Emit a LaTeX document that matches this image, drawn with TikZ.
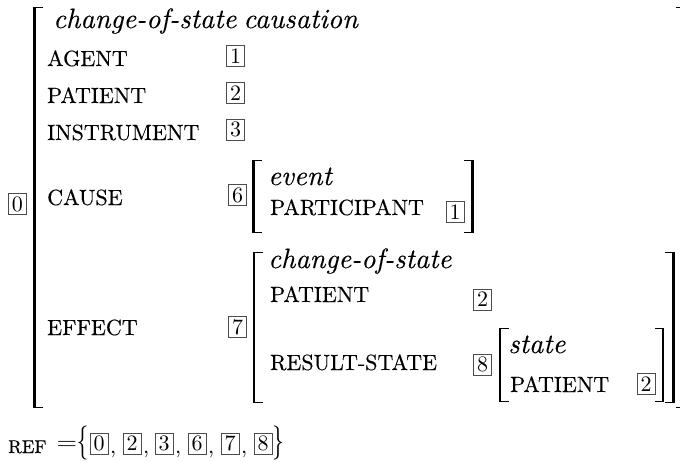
\documentclass[tikz,border=0pt]{standalone}
\usepackage{fontspec}
\usepackage{graphicx}
% Latin Modern at its 10pt design size, scaled up; labels slightly darkened
\newfontfamily\lmten{lmroman10}[Extension=.otf, UprightFont=*-regular,
  ItalicFont=*-italic, BoldFont=*-bold, FakeBold=0.3]
\newfontfamily\lmdigits{lmroman10}[Extension=.otf, UprightFont=*-regular,
  ItalicFont=*-italic, BoldFont=*-bold]

% type sizes for the feature structure
\newcommand\attrfont{\lmten\fontsize{22}{26}\selectfont}
\newcommand\reffont{\lmten\fontsize{18.5}{24}\selectfont}
\newcommand\typefont{\lmten\fontsize{28}{32}\selectfont\itshape}
\newcommand\digitfont{\lmdigits\fontsize{22}{26}\selectfont}
\newcommand\bracefont{\lmdigits\fontsize{34}{34}\selectfont}

% square brackets of an attribute-value matrix: x of the stem, top, bottom
\newcommand\openbrk[3]{%
  \fill (#1-1.4,#2) rectangle (#1+1.4,#3);
  \fill (#1-1.4,#2) rectangle (#1+8.5,#2+1.2);
  \fill (#1-1.4,#3) rectangle (#1+8.5,#3-1.2);}
\newcommand\closebrk[3]{%
  \fill (#1-1.4,#2) rectangle (#1+1.4,#3);
  \fill (#1+1.4,#2) rectangle (#1-8.5,#2+1.2);
  \fill (#1+1.4,#3) rectangle (#1-8.5,#3-1.2);}

\tikzset{
  attr/.style={anchor=base west, inner sep=0pt, font=\attrfont},
  typ/.style={anchor=base west, inner sep=0pt, font=\typefont},
  tag/.style={draw=black!70, line width=0.8pt, inner sep=0pt,
              minimum width=18pt, minimum height=21pt, font=\digitfont},
  plain/.style={inner sep=0pt, font=\digitfont},
  bracetxt/.style={inner sep=0pt, font=\bracefont},
}

\begin{document}
\begin{tikzpicture}[x=1pt, y=-1pt]
\useasboundingbox (0,0) rectangle (680,461);

% outermost structure
\node[tag] (t0) at (17.5,204) {0};
\openbrk{34.5}{7}{408}
\closebrk{684}{7}{408}
\node[typ] (type0) at (53,28) {change-of-state\hspace{7pt}causation};
\node[attr] (agent) at (47,66) {AGENT};
\node[attr] (patient) at (47,103) {PATIENT};
\node[attr] (instr) at (47,140) {INSTRUMENT};
\node[attr] (cause) at (47,205) {CAUSE};
\node[attr] (effect) at (47,335) {EFFECT};
\node[tag] (t1) at (235.5,56) {1};
\node[tag] (t2) at (235.5,93) {2};
\node[tag] (t3) at (235.5,129.5) {3};

% value of CAUSE
\node[tag] (t6) at (237.5,195) {6};
\openbrk{253.5}{160}{233}
\closebrk{472.5}{160}{233}
\node[typ] (type6) at (268,185) {event};
\node[attr] (partic) at (270,215) {PARTICIPANT};
\node[tag] (t1b) at (455,212) {1};

% value of EFFECT
\node[tag] (t7) at (237.5,327) {7};
\openbrk{254}{252}{403}
\closebrk{673.5}{252}{403}
\node[typ] (type7) at (268,268) {change-of-state};
\node[attr] (patient7) at (270,302) {PATIENT};
\node[attr] (result) at (270,370) {RESULT-STATE};
\node[tag] (t2b) at (482.5,299.5) {2};
\node[tag] (t8) at (482.5,364.5) {8};

% value of RESULT-STATE
\openbrk{500}{328}{402}
\closebrk{663}{328}{402}
\node[typ] (type8) at (508,353) {state};
\node[attr] (patient8) at (510,392) {PATIENT};
\node[tag] (t2c) at (646,384) {2};

% REF set
\node[attr, font=\reffont] (ref) at (8,453) {REF};
\node[plain] (eq) at (67,445) {\scalebox{1.2}[1]{=}};
\node[bracetxt] (lbr) at (82.5,443) {\scalebox{0.7}[1]{\{}};
\node[tag] (r0) at (99,443.5) {0};
\node[tag] (r2) at (132,443.5) {2};
\node[tag] (r3) at (164,443.5) {3};
\node[tag] (r6) at (197,443.5) {6};
\node[tag] (r7) at (230,443.5) {7};
\node[tag] (r8) at (263,443.5) {8};
\foreach \b in {r0,r2,r3,r6,r7}
  \node[plain, anchor=base west] at ([xshift=1.5pt]\b.south east |- ref.base) {,};
\node[bracetxt] (rbr) at (278,443) {\scalebox{0.7}[1]{\}}};
\end{tikzpicture}
\end{document}
